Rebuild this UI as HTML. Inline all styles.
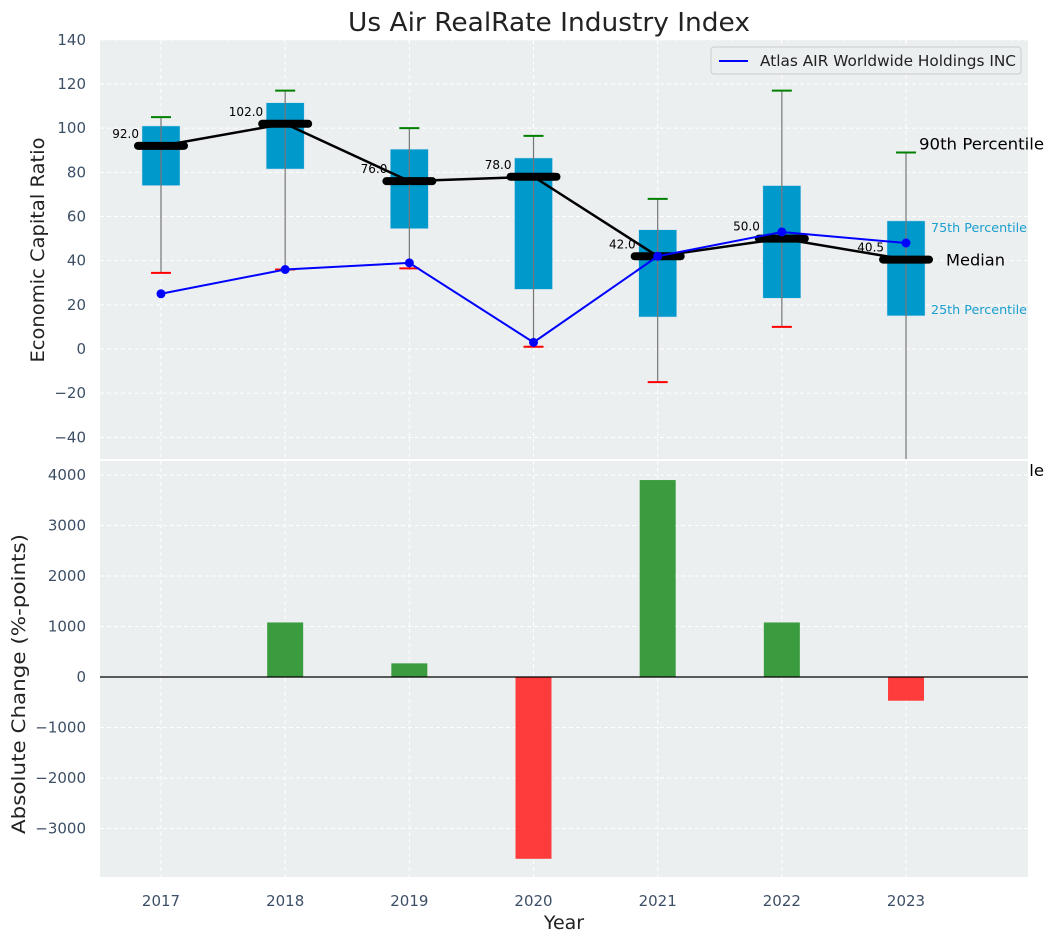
<!DOCTYPE html>
<html><head><meta charset="utf-8"><style>
body{margin:0;background:#fff;}
svg{display:block;font-family:"DejaVu Sans","Liberation Sans",sans-serif;overflow:visible}
</style></head><body>
<svg id="chart" width="1054" height="942" xmlns="http://www.w3.org/2000/svg"></svg>
<script>
const years = ['2017','2018','2019','2020','2021','2022','2023'];
const wLow = [34.5, 36, 36.5, 1, -15, 10, -70];
const q1 = [74, 81.5, 54.5, 27, 14.5, 23, 15];
const medians = [92.0, 102.0, 76.0, 78.0, 42.0, 50.0, 40.5];
const q3 = [101, 111.5, 90.5, 86.5, 54, 74, 58];
const wHigh = [105, 117, 100, 96.5, 68, 117, 89];
const companyVals = [25, 36, 39, 3, 42, 53, 48];
const changes = [0, 1080, 270, -3600, 3900, 1080, -470];
const topTicks = [-40,-20,0,20,40,60,80,100,120,140];
const botTicks = [-3000,-2000,-1000,0,1000,2000,3000,4000];

const svg = document.getElementById('chart');
const NS = 'http://www.w3.org/2000/svg';
function mk(tag, attrs, parent){const e=document.createElementNS(NS,tag);for(const k in attrs)e.setAttribute(k,attrs[k]);(parent||svg).appendChild(e);return e;}
const L=100,R=1028;
const xS = i => 161 + i*124.17;
const T0=40,T1=459, B0=459,B1=877;
const yT = v => 349 - v*2.2083;
const yB = v => 677 - v*0.0505;

const topG = mk('g',{});


mk('rect',{x:L,y:T0,width:R-L,height:T1-T0,fill:'#ebeff0'},topG);
topTicks.forEach(t=>{
  const y=yT(t);
  mk('line',{x1:L,x2:R,y1:y,y2:y,stroke:'#fff','stroke-dasharray':'4,3','stroke-width':1},topG);
  const tx=mk('text',{x:86,y:y+5,'text-anchor':'end','font-size':15,fill:'#3d4f66'},topG);
  tx.textContent = t<0?'\u2212'+(-t):t;
  
  
});
years.forEach((y,i)=>mk('line',{x1:xS(i),x2:xS(i),y1:T0,y2:T1,stroke:'#fff','stroke-dasharray':'4,3'},topG));

const clipT = mk('clipPath',{id:'ct'}); mk('rect',{x:L,y:T0,width:R-L,height:T1-T0},clipT);
const plotT = mk('g',{'clip-path':'url(#ct)'},topG);

years.forEach((y,i)=>{
  const t=mk('text',{x:xS(i)-22,y:yT(medians[i])-8,'text-anchor':'end','font-size':12,fill:'#000'},plotT);
  t.textContent=medians[i].toFixed(1);
  
  
});
years.forEach((y,i)=>{
  const b=mk('rect',{x:xS(i)-19,y:yT(q3[i]),width:38,height:yT(q1[i])-yT(q3[i]),fill:'#0099cc',stroke:'#cde',"stroke-width":0.5},plotT);
  
  
  const w=mk('line',{x1:xS(i),x2:xS(i),y1:yT(wLow[i]),y2:yT(wHigh[i]),stroke:'#777','stroke-width':1.2},plotT);
  
  
  const ch=mk('line',{x1:xS(i)-10,x2:xS(i)+10,y1:yT(wHigh[i]),y2:yT(wHigh[i]),stroke:'green','stroke-width':2},plotT);
  
  
  const cl=mk('line',{x1:xS(i)-10,x2:xS(i)+10,y1:yT(wLow[i]),y2:yT(wLow[i]),stroke:'red','stroke-width':2},plotT);
  
  
});
const mp=mk('polyline',{points:medians.map((m,i)=>xS(i)+','+yT(m)).join(' '),fill:'none',stroke:'#000','stroke-width':2.5},plotT);


years.forEach((y,i)=>{
  const m=mk('line',{x1:xS(i)-23,x2:xS(i)+23,y1:yT(medians[i]),y2:yT(medians[i]),stroke:'#000','stroke-width':8,'stroke-linecap':'round'},plotT);
  
  
});
const cl=mk('polyline',{points:companyVals.map((v,i)=>xS(i)+','+yT(v)).join(' '),fill:'none',stroke:'#0000ff','stroke-width':2},plotT);


companyVals.forEach((v,i)=>{
  const c=mk('circle',{cx:xS(i),cy:yT(v),r:4.5,fill:'#0000ff'},plotT);
  
  
});
const ann=[['90th Percentile',919,yT(wHigh[6])-3,16,'#000',125],['75th Percentile',931,yT(q3[6])+11,12.5,'#1a9fd0',96],['Median',946,yT(medians[6])+6,16,'#000',59],['25th Percentile',931,yT(q1[6])-2,12.5,'#1a9fd0',96],['10th Percentile',919,476,16,'#000',125]];
ann.forEach(a=>{
  const t=mk('text',{x:a[1],y:a[2],'font-size':a[3],fill:a[4],textLength:a[5],lengthAdjust:'spacingAndGlyphs'});
  t.textContent=a[0];
  
  
});
const lg=mk('g',{});


mk('rect',{x:711,y:47,width:310,height:27,rx:3,fill:'#ebeff0',stroke:'#ccc'},lg);
mk('line',{x1:719,x2:748,y1:61,y2:61,stroke:'#0000ff','stroke-width':2},lg);
const lt=mk('text',{x:760,y:66,'font-size':15,fill:'#222',textLength:256,lengthAdjust:'spacingAndGlyphs'},lg);
lt.textContent='Atlas AIR Worldwide Holdings INC';



const botG=mk('g',{});


mk('rect',{x:L,y:B0+2,width:R-L,height:B1-B0-2,fill:'#ebeff0'},botG);
botTicks.forEach(t=>{
  const y=yB(t);
  mk('line',{x1:L,x2:R,y1:y,y2:y,stroke:'#fff','stroke-dasharray':'4,3'},botG);
  const tx=mk('text',{x:86,y:y+5,'text-anchor':'end','font-size':15,fill:'#3d4f66'},botG);
  tx.textContent=t<0?'\u2212'+(-t):t;
  
  
});
years.forEach((y,i)=>{
  mk('line',{x1:xS(i),x2:xS(i),y1:B0+2,y2:B1,stroke:'#fff','stroke-dasharray':'4,3'},botG);
  const tx=mk('text',{x:xS(i),y:906,'text-anchor':'middle','font-size':15,fill:'#3d4f66'},botG);
  tx.textContent=y;
  
  
});
changes.forEach((v,i)=>{
  const y0=yB(0),y1=yB(v);
  const b=mk('rect',{x:xS(i)-18,y:Math.min(y0,y1),width:36,height:Math.abs(y1-y0),fill:v>=0?'#3a9c3e':'#ff3c3c'},botG);
  
  
});
mk('line',{x1:L,x2:R,y1:yB(0),y2:yB(0),stroke:'#000','stroke-width':1.2},botG);

const tt=mk('text',{x:549,y:31,'text-anchor':'middle','font-size':26,fill:'#222',textLength:402,lengthAdjust:'spacingAndGlyphs'});
tt.textContent='Us Air RealRate Industry Index';


const yt1=mk('text',{x:0,y:0,'text-anchor':'middle','font-size':19,fill:'#222',textLength:225,lengthAdjust:'spacingAndGlyphs',transform:'translate(44,250) rotate(-90)'});
yt1.textContent='Economic Capital Ratio';


const yt2=mk('text',{x:0,y:0,'text-anchor':'middle','font-size':19,fill:'#222',textLength:300,lengthAdjust:'spacingAndGlyphs',transform:'translate(25,684) rotate(-90)'});
yt2.textContent='Absolute Change (%-points)';


const xt=mk('text',{x:564,y:929,'text-anchor':'middle','font-size':19,fill:'#222'});
xt.textContent='Year';


</script>
</body></html>
